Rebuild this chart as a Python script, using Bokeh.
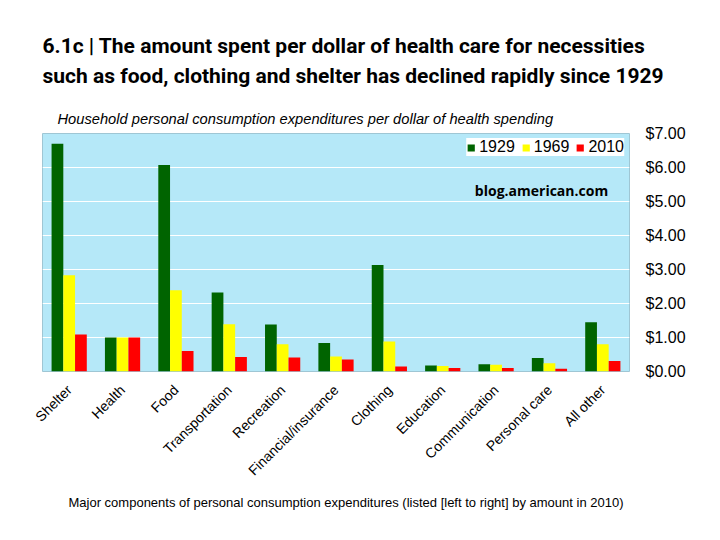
from bokeh.plotting import figure
from bokeh.models import (FactorRange, Range1d, NumeralTickFormatter, Legend, LegendItem,
                          Label, Title, ColumnDataSource)
from bokeh.transform import dodge
from bokeh.embed import file_html
from bokeh.resources import INLINE
from math import pi

categories = ["Shelter", "Health", "Food", "Transportation", "Recreation",
              "Financial/insurance", "Clothing", "Education", "Communication",
              "Personal care", "All other"]
v1929 = [6.70, 1.00, 6.07, 2.32, 1.38, 0.84, 3.13, 0.18, 0.21, 0.40, 1.45]
v1969 = [2.83, 1.00, 2.39, 1.39, 0.80, 0.44, 0.88, 0.16, 0.20, 0.24, 0.80]
v2010 = [1.09, 1.00, 0.60, 0.43, 0.41, 0.35, 0.15, 0.10, 0.10, 0.08, 0.31]
years = ["1929", "1969", "2010"]
colors = ["#006400", "#ffff00", "#ff0000"]
title_lines = ["6.1c | The amount spent per dollar of health care for necessities",
               "such as food, clothing and shelter has declined rapidly since 1929"]

src = ColumnDataSource(dict(cat=categories, y1929=v1929, y1969=v1969, y2010=v2010))

p = figure(x_range=FactorRange(*categories), y_range=Range1d(0, 7),
           width=704, height=524, output_backend="svg", toolbar_location=None,
           y_axis_location="right",
           min_border_left=42, min_border_right=75, min_border_top=133, min_border_bottom=153)

p.background_fill_color = "#b5e8f8"
p.border_fill_color = "white"
p.outline_line_color = "#9fc6d4"
p.xgrid.grid_line_color = None
p.ygrid.grid_line_color = "white"
p.ygrid.grid_line_width = 1

bw = 0.22
offs = [-bw, 0.0, bw]
renderers = []
for yr, col, off in zip(years, colors, offs):
    r = p.vbar(x=dodge("cat", off, range=p.x_range), top="y" + yr, width=bw,
               source=src, fill_color=col, line_color=None)
    renderers.append(r)

# axes
xa = p.xaxis[0]
xa.major_label_orientation = pi / 4
xa.major_tick_line_color = None
xa.minor_tick_line_color = None
xa.axis_line_color = None
xa.major_label_standoff = 10
xa.major_label_text_font = "Liberation Sans"
xa.major_label_text_font_size = "14px"
xa.major_label_text_color = "black"

ya = p.yaxis[0]
ya.formatter = NumeralTickFormatter(format="$0.00")
ya.axis_line_color = None
ya.major_tick_line_color = None
ya.minor_tick_line_color = None
ya.major_label_standoff = 10
ya.major_label_text_font = "Liberation Sans"
ya.major_label_text_font_size = "16px"
ya.major_label_text_color = "black"

legend = Legend(items=[LegendItem(label=yr, renderers=[r]) for yr, r in zip(years, renderers)],
                orientation="horizontal", location="top_right", margin=5,
                background_fill_color="white", background_fill_alpha=1.0,
                border_line_color=None, padding=5, spacing=6,
                glyph_width=9, glyph_height=9, label_standoff=4,
                label_text_font="Liberation Sans", label_text_font_size="16px",
                label_text_color="black")
p.add_layout(legend)

p.add_layout(Title(text="Household personal consumption expenditures per dollar of health spending",
                   align="left", offset=15, standoff=14, text_color="black",
                   text_font="Liberation Sans", text_font_style="italic", text_font_size="14.7px"),
             "above")
p.add_layout(Title(text="\n".join(title_lines),
                   align="left", offset=0, standoff=27, text_color="black",
                   text_line_height=1.26,
                   text_font="Roboto", text_font_style="bold", text_font_size="21px"),
             "above")
p.add_layout(Title(text="Major components of personal consumption expenditures (listed [left to right] by amount in 2010)",
                   align="left", offset=26, standoff=10, text_color="black",
                   text_font="Liberation Sans", text_font_style="normal", text_font_size="13px"),
             "below")
p.add_layout(Label(x=499, y=181, x_units="screen", y_units="screen",
                   text="blog.american.com", text_align="center", text_color="black",
                   text_font="Open Sans", text_font_style="bold", text_font_size="14px",
                   text_baseline="alphabetic"))

open("out.html", "w").write(file_html(p, INLINE))
